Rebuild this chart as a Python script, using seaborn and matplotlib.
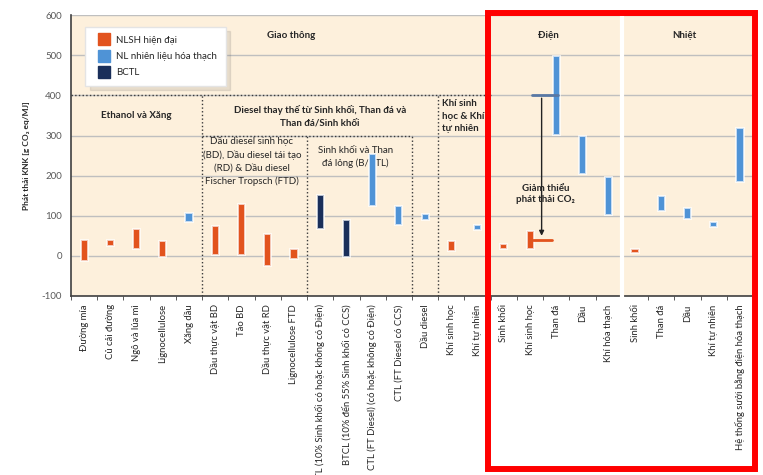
import seaborn as sns
import matplotlib.pyplot as plt
import pandas as pd
import numpy as np
from matplotlib.lines import Line2D
from matplotlib.patches import Rectangle

# --- data (g CO2 eq/MJ, low / high of each range) ---
categories = [
    "Đường mía", "Củ cải đường", "Ngô và lúa mì", "Lignocellulose", "Xăng dầu",
    "Dầu thực vật BD", "Tảo BD", "Dầu thực vật RD", "Lignocellulose FTD",
    "BTL (10% Sinh khối có hoặc không có Điện)",
    "BTCL (10% đến 55% Sinh khối có CCS)",
    "CTL (FT Diesel) (có hoặc không có Điện)",
    "CTL (FT Diesel có CCS)", "Dầu diesel",
    "Khí sinh học", "Khí tự nhiên",
    "Sinh khối", "Khí sinh học", "Than đá", "Dầu", "Khí hóa thạch",
    "Sinh khối", "Than đá", "Dầu", "Khí tự nhiên",
    "Hệ thống sưởi bằng điện hóa thạch",
]
low = [-14, 25, 18, -3, 85, 2, 2, -26, -8, 68, -4, 123, 76, 90, 12, 65,
       17, 17, 301, 204, 102, 8, 113, 92, 73, 183]
high = [40, 40, 67, 36, 108, 75, 129, 54, 17, 151, 90, 255, 123, 104, 36, 78,
        29, 63, 498, 298, 197, 17, 148, 119, 84, 318]
BIO, FOS, BCTL = "NLSH hiện đại", "NL nhiên liệu hóa thạch", "BCTL"
fuel = [BIO, BIO, BIO, BIO, FOS, BIO, BIO, BIO, BIO, BCTL, BCTL, FOS, FOS, FOS,
        BIO, FOS, BIO, BIO, FOS, FOS, FOS, BIO, FOS, FOS, FOS, FOS]
palette = {BIO: "#E2531E", FOS: "#4F93D6", BCTL: "#1A2F5A"}

# reduction annotation (electricity: coal -> biogas)
cut_from, cut_to = 400, 40

df = pd.DataFrame({"pos": np.arange(len(categories)), "low": low, "high": high, "fuel": fuel})
df["span"] = df["high"] - df["low"]

sns.set_style("white")
plt.rcParams["font.family"] = ["Lato", "DejaVu Sans"]
plt.rcParams["axes.unicode_minus"] = False

fig = plt.figure(figsize=(7.63, 4.75), dpi=100)
ax = fig.add_axes([0.093, 0.377, 0.894, 0.591])

sns.barplot(data=df, x="pos", y="span", bottom=df["low"], width=0.27,
            errorbar=None, color=palette[BIO], ax=ax,
            edgecolor=(1, 1, 1, 0.7), linewidth=1.4, zorder=4)
for patch, f in zip(ax.patches, df["fuel"]):
    patch.set_facecolor(palette[f])

ax.set_facecolor("#FDF0DC")
ax.set_xlim(-0.5, len(categories) - 0.5)
ax.set_ylim(-100, 600)
ax.set_yticks(range(-100, 601, 100))
ax.tick_params(axis="y", labelsize=7, labelcolor="#595959", length=3, color="#404040")
ax.set_xticks(df["pos"])
ax.set_xticklabels(categories, rotation=90, fontsize=6.8)
ax.set_xticks(np.arange(-0.5, len(categories), 1), minor=True)
ax.tick_params(axis="x", which="major", length=0, pad=6)
ax.tick_params(axis="x", which="minor", length=3, direction="out", color="#404040",
               bottom=True)
ax.yaxis.grid(True, color="#BFBFBF", lw=1)
ax.set_axisbelow(True)
for s in ["top", "right"]:
    ax.spines[s].set_visible(False)
for s in ["left", "bottom"]:
    ax.spines[s].set_color("#404040")
    ax.spines[s].set_linewidth(1.2)
ax.set_xlabel("")
ax.set_ylabel("Phát thải KNK [g CO₂ eq/MJ]", fontsize=6, fontweight="bold")
ax.yaxis.set_label_coords(-0.06, 0.5)

# group separators
dot = dict(colors="#3a3a3a", linestyles=":", lw=1, zorder=3)
ax.hlines(400, -0.5, 15.5, **dot)
ax.hlines(300, 4.5, 12.5, **dot)
ax.vlines([4.5, 13.5], -100, 400, **dot)
ax.vlines([8.5, 12.5], -100, 300, **dot)
ax.axvline(20.5, ymin=-0.015, ymax=1, color="white", lw=3, zorder=5, clip_on=False)

# group headings
bold = dict(fontsize=7, fontweight="bold", ha="center", va="center")
ax.text(7.9, 550, "Giao thông", **bold)
ax.text(17.7, 550, "Điện", **bold)
ax.text(22.9, 550, "Nhiệt", **bold)
ax.text(2.0, 351, "Ethanol và Xăng", **bold)
ax.text(9.0, 348, "Diesel thay thế từ Sinh khối, Than đá và\nThan đá/Sinh khối",
        linespacing=1.5, **bold)
ax.text(13.63, 348, "Khí sinh\nhọc & Khí\ntự nhiên", fontsize=7, fontweight="bold",
        ha="left", va="center", linespacing=1.5)
ax.text(6.4, 236, "Dầu diesel sinh học\n(BD), Dầu diesel tái tạo\n(RD) & Dầu diesel\n"
        "Fischer Tropsch (FTD)", fontsize=7, ha="center", va="center", linespacing=1.55)
ax.text(10.35, 246, "Sinh khối và Than\nđá lỏng (B/CTL)", fontsize=7, ha="center",
        va="center", linespacing=1.5)
ax.text(17.6, 154, "Giảm thiểu\nphát thải CO₂", linespacing=1.4, zorder=6, **bold)

# mitigation arrow
ax.plot([17.07, 18.06], [cut_from, cut_from], color="#5878A4", lw=2, zorder=5)
ax.plot([17.1, 17.85], [cut_to, cut_to], color=palette[BIO], lw=2, zorder=5)
ax.annotate("", xy=(17.44, cut_to + 3), xytext=(17.44, cut_from),
            arrowprops=dict(arrowstyle="-|>", color="#222222", lw=1, mutation_scale=7),
            zorder=5)

handles = [Line2D([], [], marker="s", ls="", markersize=8, markerfacecolor=palette[k],
                  markeredgecolor=palette[k], label=k) for k in (BIO, FOS, BCTL)]
leg = ax.legend(handles=handles, loc="upper left", bbox_to_anchor=(0.014, 0.975),
                fontsize=7, frameon=True, fancybox=False,
                shadow={"alpha": 0.12, "ox": 3, "oy": -3},
                borderpad=0.9, labelspacing=0.75, handletextpad=0.3,
                edgecolor="#e4e4e4")
leg.get_frame().set_facecolor("white")
leg.set_zorder(7)

# highlight box
fig.add_artist(Rectangle((0.6396, 0.0126), 0.35, 0.96, transform=fig.transFigure,
                         fill=False, ec="#FF0000", lw=4.3))

fig.savefig("out.png", dpi=100)
